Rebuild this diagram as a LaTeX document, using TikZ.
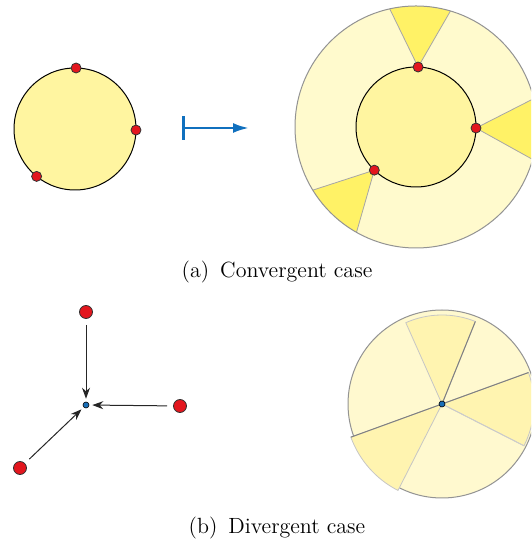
\documentclass[tikz,border=0pt]{standalone}
\usepackage{tikz}
\usetikzlibrary{arrows.meta,positioning,calc}
\definecolor{CaseRed}{HTML}{E3161E}
\definecolor{CaseBlue}{HTML}{1A6FB8}
\definecolor{CaseArrow}{HTML}{1070BE}
\definecolor{CaseCore}{HTML}{FFF5A0}
\definecolor{CaseHalo}{HTML}{FFFACD}
\definecolor{CaseWedge}{HTML}{FFF266}
\definecolor{CasePale}{HTML}{FFF9CF}
\definecolor{CaseSector}{HTML}{FFF4B0}
\tikzset{
  reddot/.style={circle, draw=black!80, fill=CaseRed, line width=0.4pt, inner sep=0pt, minimum size=5pt},
  bluedot/.style={circle, draw=black, fill=CaseBlue, line width=0.3pt, inner sep=0pt, minimum size=3pt},
  mapsarrow/.style={{Bar[width=12pt]}-{Latex[length=8pt,width=5pt]}, line width=1.3pt, CaseArrow},
  flowarrow/.style={-{Stealth[length=5.5pt,width=4pt]}, line width=0.5pt, black!85},
  wedge/.style={fill=CaseWedge, draw=gray!70, line width=0.4pt},
  sector/.style={fill=CaseSector, draw=gray!45, line width=0.4pt},
  rim/.style={draw=gray!85, line width=0.5pt},
  caption/.style={font=\fontsize{11}{13}\selectfont, anchor=center}
}

\begin{document}
\begin{tikzpicture}[x=0.5pt, y=0.5pt]
    \clip (0,0) rectangle (531,545);

    % (a) convergent case
    \coordinate (ca) at (75,416);
    \filldraw[fill=CaseCore, draw=black, line width=0.5pt] (ca) circle (61);
    \foreach \ang/\nm in {89/a1, -1/a2, 231/a3}
      \node[reddot] (\nm) at ([shift={(\ang:61)}]ca) {};

    \coordinate (mapfrom) at (182,417);
    \coordinate (mapto) at (249,417);
    \draw[mapsarrow] (mapfrom) -- (mapto);

    \coordinate (cb) at (416,418);
    \fill[CaseHalo] (cb) circle (121);
    \begin{scope}
      \clip (cb) circle (121);
      \foreach \ang/\nm in {88/b1, -1/b2, 226/b3} {
        \pgfmathsetmacro{\lo}{\ang-28}
        \pgfmathsetmacro{\hi}{\ang+28}
        \coordinate (p\nm) at ([shift={(\ang:60)}]cb);
        \draw[wedge] (p\nm) -- +(\lo:160) -- +(\hi:160) -- cycle;
      }
    \end{scope}
    \draw[rim] (cb) circle (121);
    \filldraw[fill=CaseCore, draw=black, line width=0.5pt] (cb) circle (60);
    \foreach \nm in {b1, b2, b3}
      \node[reddot] (\nm) at (p\nm) {};

    \node[caption] (capa) at (277,273) {(a)\enspace Convergent case};

    % (b) divergent case
    \node[bluedot] (cl) at (86,140) {};
    \node[reddot, minimum size=6.5pt] (d1) at (86,233) {};
    \node[reddot, minimum size=6.5pt] (d2) at (180,139) {};
    \node[reddot, minimum size=6.5pt] (d3) at (20,77) {};
    \draw[flowarrow, shorten <=3pt, shorten >=1.5pt] (d1) -- (cl);
    \draw[flowarrow, shorten <=3pt, shorten >=1.5pt] (d2) -- (cl);
    \draw[flowarrow, shorten <=3pt, shorten >=1.5pt] (d3) -- (cl);

    \coordinate (cr) at (442,141);
    \fill[CasePale] (cr) circle (94);
    \draw[rim] (cr) circle (94);
    \draw[sector] (cr) -- +(68:89) arc[start angle=68, end angle=114, radius=89] -- cycle;
    \draw[sector] (cr) -- +(-27:92) arc[start angle=-27, end angle=20, radius=92] -- cycle;
    \draw[sector] (cr) -- +(200:97) arc[start angle=200, end angle=243, radius=97] -- cycle;
    \draw[draw=gray!40, line width=0.4pt] (cr) -- +(-27:92);
    \draw[draw=gray, line width=0.5pt] (cr) -- +(20:92) (cr) -- +(200:97) (cr) -- +(68:89);
    \node[bluedot] (cc) at (cr) {};

    \node[caption] (capb) at (277,17) {(b)\enspace Divergent case};
\end{tikzpicture}
\end{document}
